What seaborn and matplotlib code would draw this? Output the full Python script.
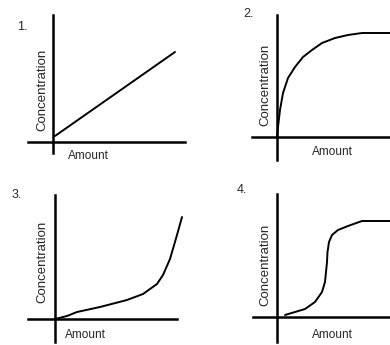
import matplotlib
matplotlib.use("Agg")
import matplotlib.pyplot as plt
import seaborn as sns

# curve data (Amount, Concentration) for the four sketches
amount_1 = [0.2, 12.2]
conc_1 = [0.6, 9.0]

amount_2 = [0, 0.1, 0.3, 0.6, 1.1, 1.8, 2.6, 3.5, 4.5, 5.8, 7.1, 8.5, 11.3]
conc_2 = [0, 1.0, 2.7, 4.4, 5.9, 7.0, 8.0, 8.7, 9.4, 9.9, 10.2, 10.4, 10.4]

amount_3 = [0, 1.2, 2.2, 4.5, 7.2, 8.8, 10.2, 10.8, 11.5, 12.2, 12.7]
conc_3 = [0, 0.3, 0.7, 1.2, 1.9, 2.5, 3.5, 4.4, 6.0, 8.4, 10.2]

amount_4 = [0.8, 1.8, 2.8, 3.8, 4.5, 4.8, 4.9, 5.0, 5.05, 5.2, 5.5, 6.1, 7.1, 8.5, 11.3]
conc_4 = [0.2, 0.5, 0.8, 1.5, 2.5, 3.5, 4.5, 5.5, 6.5, 7.5, 8.2, 8.7, 9.1, 9.6, 9.6]

labels = ["1.", "2.", "3.", "4."]
series = [(amount_1, conc_1), (amount_2, conc_2), (amount_3, conc_3), (amount_4, conc_4)]

sns.set_style("white")
plt.rcParams["font.family"] = ["Liberation Sans", "DejaVu Sans"]

W, H = 390, 345
S = 10.0  # pixels per data unit

# layout per panel: origin in pixels, x extent, y extent, label positions
panels = [
    dict(origin=(53, 142), xlim=(-2.5, 13.2), ylim=(-1.1, 12.7),
         num=(-3.6, 11.5), ylab=(-1.1, 5.2), xlab=(3.5, -1.4)),
    dict(origin=(277, 137), xlim=(-2.5, 11.3), ylim=(-2.3, 12.2),
         num=(-3.4, 12.3), ylab=(-1.2, 5.2), xlab=(5.5, -1.5)),
    dict(origin=(55, 319), xlim=(-2.7, 12.2), ylim=(-2.3, 12.4),
         num=(-4.3, 12.4), ylab=(-1.3, 5.7), xlab=(3.0, -1.6)),
    dict(origin=(277, 317), xlim=(-2.4, 11.3), ylim=(-2.5, 12.3),
         num=(-4.0, 12.7), ylab=(-1.2, 5.2), xlab=(5.5, -1.8)),
]

fig = plt.figure(figsize=(W / 100, H / 100), dpi=100)

for p, (xs, ys), lab in zip(panels, series, labels):
    ox, oy = p["origin"]
    x0, x1 = p["xlim"]
    y0, y1 = p["ylim"]
    left = (ox + x0 * S) / W
    width = (x1 - x0) * S / W
    bottom = 1 - (oy - y0 * S) / H
    height = (y1 - y0) * S / H
    ax = fig.add_axes([left, bottom, width, height])
    sns.lineplot(x=xs, y=ys, ax=ax, color="black", linewidth=1.4)
    for ln in ax.get_lines():
        ln.set_clip_on(False)
        ln.set_solid_joinstyle("round")
    ax.set_xlim(x0, x1)
    ax.set_ylim(y0, y1)
    for side in ["top", "right"]:
        ax.spines[side].set_visible(False)
    for side in ["left", "bottom"]:
        ax.spines[side].set_position(("data", 0))
        ax.spines[side].set_linewidth(1.8)
        ax.spines[side].set_color("black")
    ax.set_xticks([])
    ax.set_yticks([])
    ax.patch.set_alpha(0)
    ax.text(p["num"][0], p["num"][1], lab, fontsize=9, ha="left", va="center")
    ax.text(p["ylab"][0], p["ylab"][1], "Concentration", fontsize=9.5,
            rotation=90, ha="center", va="center")
    ax.text(p["xlab"][0], p["xlab"][1], "Amount", fontsize=8.5,
            ha="center", va="center")

fig.savefig("out.png", dpi=100)
